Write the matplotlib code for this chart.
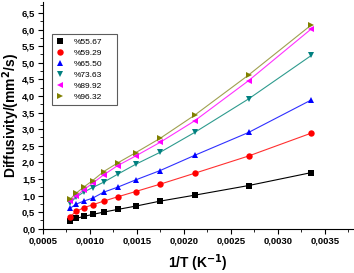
import matplotlib
matplotlib.use("Agg")
import matplotlib.pyplot as plt
from matplotlib.ticker import MultipleLocator, FuncFormatter

plt.rcParams['font.family'] = ['Liberation Sans', 'DejaVu Sans']

inv_T = [0.000786, 0.000853, 0.000932, 0.001028, 0.001145, 0.001294,
         0.001486, 0.001745, 0.002114, 0.002688, 0.003356]

labels = ["%55.67", "%59.29", "%65.50", "%73.63", "%89.92", "%96.32"]
d_5567 = [0.24, 0.31, 0.37, 0.43, 0.50, 0.58, 0.68, 0.83, 1.01, 1.30, 1.69]
d_5929 = [0.36, 0.52, 0.63, 0.72, 0.83, 0.96, 1.12, 1.34, 1.67, 2.19, 2.88]
d_6550 = [0.61, 0.74, 0.83, 0.92, 1.10, 1.25, 1.47, 1.75, 2.21, 2.90, 3.88]
d_7363 = [0.77, 0.95, 1.10, 1.24, 1.40, 1.64, 1.94, 2.30, 2.90, 3.91, 5.22]
d_8992 = [0.82, 0.98, 1.17, 1.37, 1.62, 1.90, 2.19, 2.60, 3.25, 4.46, 6.02]
d_9632 = [0.88, 1.07, 1.25, 1.45, 1.72, 1.98, 2.29, 2.72, 3.42, 4.63, 6.14]

series = [d_5567, d_5929, d_6550, d_7363, d_8992, d_9632]
colors = ['#000000', '#FF0000', '#0000FF', '#008080', '#FF00FF', '#808000']
line_colors = ['#000000', '#FF3030', '#3030FF', '#2E9B8E', '#FF30FF', '#A0A050']
markers = ['s', 'o', '^', 'v', '<', '>']

fig = plt.figure(figsize=(3.54, 2.73), dpi=100)
ax = fig.add_axes([43/354, 1-228.7/273, 310/354, 227/273])

for y, c, lc, m, lab in zip(series, colors, line_colors, markers, labels):
    ax.plot(inv_T, y, color=lc, lw=0.8, zorder=2)
    ax.plot(inv_T, y, linestyle='none', marker=m, color=c, markersize=4.6,
            markeredgewidth=0, label=lab, zorder=3)

ax.set_xlim(0.0005, 0.0038)
ax.set_ylim(0, 6.84)
ax.xaxis.set_major_locator(MultipleLocator(0.0005))
ax.xaxis.set_minor_locator(MultipleLocator(0.00025))
ax.yaxis.set_major_locator(MultipleLocator(0.5))
ax.yaxis.set_minor_locator(MultipleLocator(0.25))
ax.xaxis.set_major_formatter(FuncFormatter(lambda v, p: f"{v:.4f}".replace('.', ',')))
ax.yaxis.set_major_formatter(FuncFormatter(lambda v, p: f"{v:.1f}".replace('.', ',')))

for s in ['top', 'right']:
    ax.spines[s].set_visible(False)
for s in ['left', 'bottom']:
    ax.spines[s].set_linewidth(0.8)

ax.tick_params(axis='both', which='major', direction='out', length=3.5, width=0.8,
               labelsize=6.8, pad=2)
ax.tick_params(axis='both', which='minor', direction='out', length=2, width=0.6)
for lbl in ax.get_xticklabels() + ax.get_yticklabels():
    lbl.set_fontweight('bold')

ax.set_xlabel("1/T (K$^{\\mathbf{-1}}$)", fontsize=10, fontweight='bold')
ax.set_ylabel("Diffusivity/(mm$^{\\mathbf{2}}$/s)", fontsize=10, fontweight='bold')
ax.xaxis.set_label_coords(0.5, (228.7 - 263) / 227, transform=ax.transAxes)
ax.yaxis.set_label_coords((11 - 43) / 310, 0.5, transform=ax.transAxes)
ax.xaxis.label.set_va('center')
ax.yaxis.label.set_va('center')

leg = ax.legend(loc='upper left', bbox_to_anchor=(0.029, 0.5, 0.21, 0.358),
                mode='expand', fontsize=6,
                frameon=True, fancybox=False, edgecolor='#333333',
                handlelength=1.0, handletextpad=1.2, borderpad=0.45,
                labelspacing=0.4, borderaxespad=0)
leg.get_frame().set_linewidth(0.8)

fig.savefig("out.png", dpi=100)
